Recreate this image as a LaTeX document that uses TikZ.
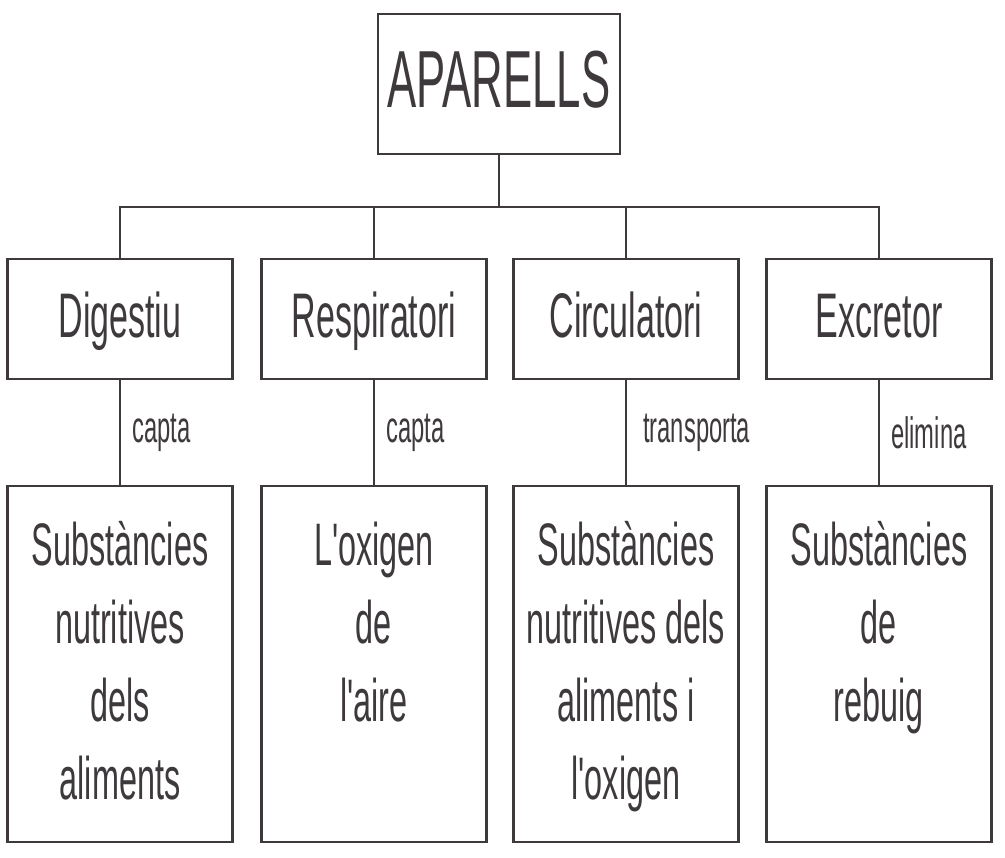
\documentclass[tikz,border=0pt]{standalone}
\usepackage{fontspec}
\setmainfont{Liberation Sans}[FakeStretch=0.54, Ligatures=TeXOff]
\usepackage{tikz}
\definecolor{ink}{RGB}{62,57,60}

\begin{document}
\begin{tikzpicture}[x=1pt, y=-1pt, line width=2.4pt, draw=ink, text=ink,
	titol/.style={draw, minimum width=242pt, minimum height=140pt, font=\fontsize{81}{97}\selectfont, text height=60pt, text depth=12pt},
	aparell/.style={draw, minimum width=225pt, minimum height=120pt, font=\fontsize{63}{76}\selectfont, text height=48pt, text depth=10pt},
	caixa/.style={draw, minimum width=225pt, minimum height=356pt},
	frase/.style={align=center, font=\fontsize{60}{78}\selectfont, anchor=base},
	verb/.style={font=\fontsize{44}{52}\selectfont, inner sep=11pt}]
	\useasboundingbox (0,0) rectangle (1005,858);
	\node[titol] (aparells) at (499,84) {APARELLS};
	\coordinate (branca) at (499,207);
		\node[aparell] (dig) at (120,319) {Digestiu};
		\node[aparell] (resp) at (374,319) {Respiratori};
		\node[aparell] (circ) at (626,319) {Circulatori};
		\node[aparell] (excr) at (879,319) {Excretor};
			\node[caixa] (dig2) at (120,664) {};
			\node[caixa] (resp2) at (374,664) {};
			\node[caixa] (circ2) at (626,664) {};
			\node[caixa] (excr2) at (879,664) {};
			\node[frase] (digtxt) at (120,799) {Substàncies\\nutritives\\dels\\aliments};
			\node[frase] (resptxt) at (374,721) {L'oxigen\\de\\l'aire};
			\node[frase] (circtxt) at (626,799) {Substàncies\\nutritives dels\\aliments i\\l'oxigen};
			\node[frase] (excrtxt) at (879,721) {Substàncies\\de\\rebuig};
	\draw[-] (aparells) to (branca);
	\draw[-] (branca) -| (dig);
	\draw[-] (branca) -| (resp);
	\draw[-] (branca) -| (circ);
	\draw[-] (branca) -| (excr);
	\draw[-] (dig) to node [right, verb] {capta} (dig2);
	\draw[-] (resp) to node [right, verb] {capta} (resp2);
	\draw[-] (circ) to node [right, verb, xshift=5pt] {transporta} (circ2);
	\draw[-] (excr) to node [right, verb] {elimina} (excr2);
\end{tikzpicture}
\end{document}
